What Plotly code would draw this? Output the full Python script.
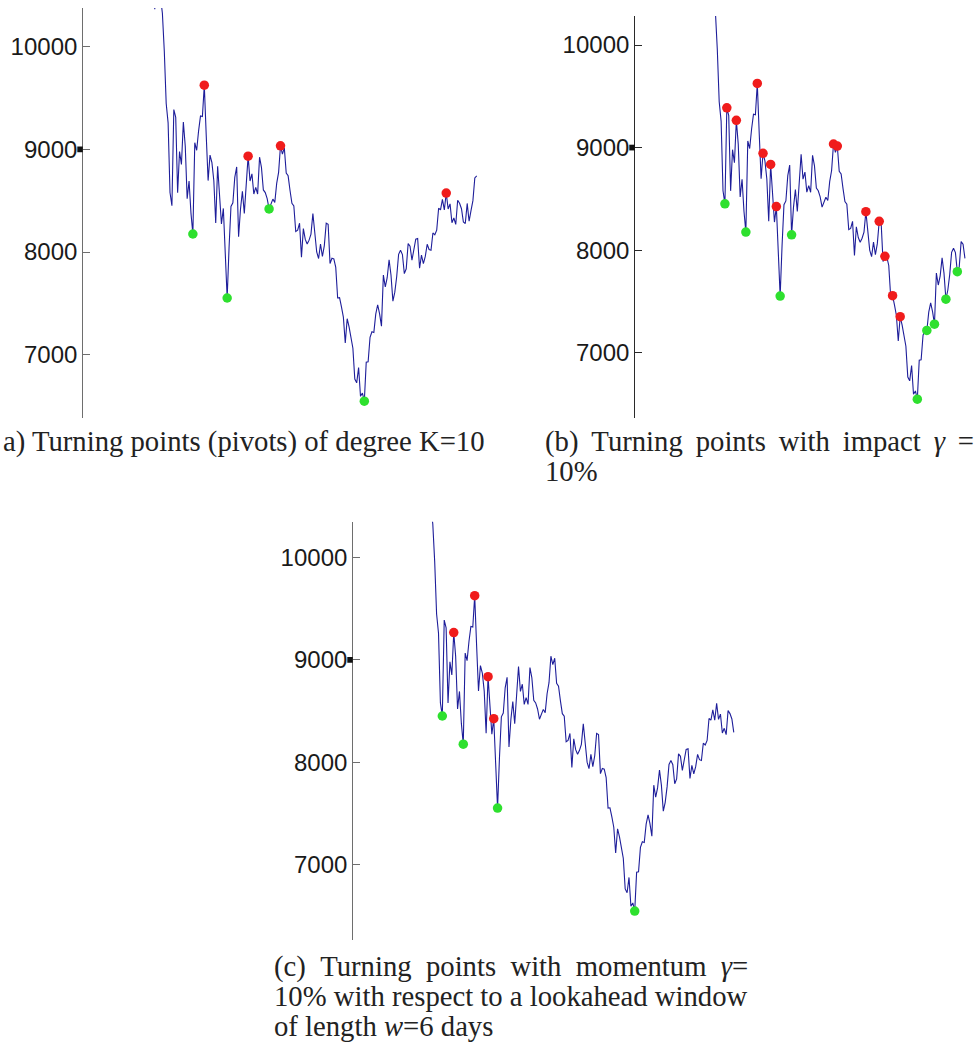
import plotly.graph_objects as go

# ---- data: daily index closes ----
sep_2008 = [11143.13, 10365.45, 10850.66]
oct_2008 = [10831.07, 10482.85, 10325.38, 9955.50, 9447.11, 9258.10, 8579.19, 8451.19,
            9387.61, 9310.99, 8577.91, 8979.26, 8852.22, 9265.43, 9033.66, 8519.21,
            8691.25, 8378.95, 8175.77, 9065.12, 8990.96, 9180.69, 9325.01]
nov_2008 = [9319.83, 9625.28, 9139.27, 8695.79, 8943.81, 8870.54, 8693.96, 8282.66,
            8835.25, 8497.31, 8273.58, 8424.75, 7997.28, 7552.29, 8046.42, 8443.39,
            8479.47, 8726.61, 8829.04]
dec_2008 = [8149.09, 8419.09, 8591.69, 8376.24, 8635.42, 8934.18, 8691.33, 8761.42,
            8565.09, 8629.68, 8564.53, 8924.14, 8824.34, 8604.99, 8579.11, 8519.69,
            8419.49, 8468.48, 8515.55, 8483.93, 8668.39, 8776.39]
jan_2009 = [9034.69, 8952.89, 9015.10, 8769.70, 8742.46, 8599.18, 8473.97, 8448.56,
            8200.14, 8212.49, 8281.22, 7949.09, 8228.10, 8122.80, 8077.56, 8116.03,
            8174.73, 8375.45, 8149.01, 8000.86]
feb_2009 = [7936.83, 8078.36, 7956.66, 8063.07, 8280.59, 8270.87, 7888.88, 7939.53,
            7932.76, 7850.41, 7552.60, 7555.63, 7465.95, 7365.67, 7114.78, 7350.94,
            7270.89, 7182.08, 7062.93]
mar_2009 = [6763.29, 6726.02, 6875.84, 6594.44, 6626.94, 6547.05, 6926.49, 6930.40,
            7170.06, 7223.98, 7216.97, 7395.70, 7486.58, 7400.80, 7278.38, 7775.86,
            7659.97, 7749.81, 7924.56, 7776.18, 7522.02, 7608.92]
apr_2009 = [7761.60, 7978.08, 8017.59, 7975.85, 7789.56, 7837.11, 8083.38, 8057.81,
            7920.18, 8029.62, 8125.43, 8131.33, 7841.73, 7969.56, 7886.57, 7957.06,
            8076.29, 8025.00, 8016.95, 8185.73, 8168.12]
may_2009 = [8212.41, 8426.74, 8410.65, 8512.28, 8409.85, 8574.65, 8418.77, 8469.11,
            8284.89, 8331.32, 8268.64, 8504.08, 8474.85, 8422.04, 8292.13, 8277.32,
            8473.49, 8300.02, 8403.80, 8500.33]
jun_2009 = [8721.44, 8740.87]

# turning-point indices (into the daily series) for each panel
a_peaks = [27, 50, 67, 154]
a_troughs = [21, 39, 61, 111]
b_peaks = [11, 16, 27, 30, 34, 37, 67, 69, 84, 91, 94, 98, 102]
b_troughs = [10, 21, 39, 45, 111, 116, 120, 126, 132]
c_peaks = [16, 27, 34, 37]
c_troughs = [10, 21, 39, 111]
last_day = {"a": 170, "b": 136, "c": 163}

y_ticks = [7000, 8000, 9000, 10000]
NB = "\u00a0"   # extra spacing for the justified caption lines
TH = "\u2009"
captions = {
    "a": ["a) Turning points (pivots) of degree K=10"],
    "b": [f"(b) {TH}Turning {TH}points {TH}with {TH}impact {TH}<i>γ</i> {TH}=", "10%"],
    "c": [f"(c) {NB}Turning {NB}points {NB}with {NB}momentum {NB}<i>γ</i>=",
          "10% with respect to a lookahead window",
          "of length <i>w</i>=6 days"],
}

series = (sep_2008 + oct_2008 + nov_2008 + dec_2008 + jan_2009 + feb_2009
          + mar_2009 + apr_2009 + may_2009 + jun_2009)

# ---- layout geometry (pixels) ----
W, H = 979, 1047
PX_PER_DAY = 1.905
REF_DAY = 27
panels = {
    "a": dict(l=83.3, r=480, t=8, b=418, ref=204.3, y10k=46.7, k=102.67, col="#6e6e6e",
              cap_x=1, cap_y=[441]),
    "b": dict(l=635.3, r=972, t=16, b=418, ref=757.3, y10k=45.0, k=102.57, col="#2a2a2a",
              cap_x=543, cap_y=[441, 471]),
    "c": dict(l=353.3, r=740, t=521.7, b=940, ref=474.7, y10k=557.3, k=102.47, col="#6e6e6e",
              cap_x=272, cap_y=[966, 996, 1026]),
}

fig = go.Figure()
line_col = "#1e1e9a"
red = "#f01c1c"
green = "#2ee02e"

shapes = []
annotations = []
for n, (key, g) in enumerate(panels.items(), start=1):
    xa = "x" if n == 1 else f"x{n}"
    ya = "y" if n == 1 else f"y{n}"
    end = last_day[key]
    xs = list(range(end + 1))
    ys = series[:end + 1]
    fig.add_trace(go.Scatter(x=xs, y=ys, mode="lines", line=dict(color=line_col, width=1.1),
                             xaxis=xa, yaxis=ya, showlegend=False, hoverinfo="skip"))
    pk = {"a": a_peaks, "b": b_peaks, "c": c_peaks}[key]
    tr = {"a": a_troughs, "b": b_troughs, "c": c_troughs}[key]
    fig.add_trace(go.Scatter(x=pk, y=[series[i] for i in pk], mode="markers",
                             marker=dict(color=red, size=9.5, line=dict(width=0)),
                             xaxis=xa, yaxis=ya, showlegend=False))
    fig.add_trace(go.Scatter(x=tr, y=[series[i] for i in tr], mode="markers",
                             marker=dict(color=green, size=9.5, line=dict(width=0)),
                             xaxis=xa, yaxis=ya, showlegend=False))

    x0 = REF_DAY - (g["ref"] - g["l"]) / PX_PER_DAY
    x1 = REF_DAY + (g["r"] - g["ref"]) / PX_PER_DAY
    ytop = 10000 + (g["y10k"] - g["t"]) / g["k"] * 1000
    ybot = 10000 - (g["b"] - g["y10k"]) / g["k"] * 1000
    xdom = [g["l"] / W, g["r"] / W]
    ydom = [1 - g["b"] / H, 1 - g["t"] / H]
    xkey = "xaxis" if n == 1 else f"xaxis{n}"
    ykey = "yaxis" if n == 1 else f"yaxis{n}"
    fig.update_layout(**{
        xkey: dict(domain=xdom, range=[x0, x1], visible=False, anchor=ya),
        ykey: dict(domain=ydom, range=[ybot, ytop], anchor=xa,
                   tickvals=y_ticks, ticktext=[str(v) for v in y_ticks],
                   ticks="inside", ticklen=7, tickwidth=1.2, tickcolor=g["col"],
                   showline=True, linecolor=g["col"], linewidth=1.3,
                   showgrid=False, zeroline=False,
                   tickfont=dict(family="Liberation Sans, Arial", size=24, color="#1a1a1a")),
    })
    # small black mark beside the 9000 label
    shapes.append(dict(type="rect", xref="paper", yref=ya,
                       x0=(g["l"] - 6) / W, x1=(g["l"] - 0.5) / W,
                       y0=9000 - 28, y1=9000 + 28,
                       fillcolor="#111111", line=dict(width=0)))
    for line_txt, cy in zip(captions[key], g["cap_y"]):
        annotations.append(dict(text=line_txt, xref="paper", yref="paper",
                                x=g["cap_x"] / W, y=1 - cy / H,
                                xanchor="left", yanchor="middle", showarrow=False,
                                font=dict(family="Liberation Serif, Times New Roman",
                                          size=28.7, color="#222222")))

fig.update_layout(width=W, height=H, autosize=False,
                  margin=dict(l=0, r=0, t=0, b=0),
                  paper_bgcolor="white", plot_bgcolor="white",
                  shapes=shapes, annotations=annotations)

fig.write_html("out.html", config={"displayModeBar": False},
               post_script="document.body.style.margin='0';document.body.style.overflow='hidden';")
